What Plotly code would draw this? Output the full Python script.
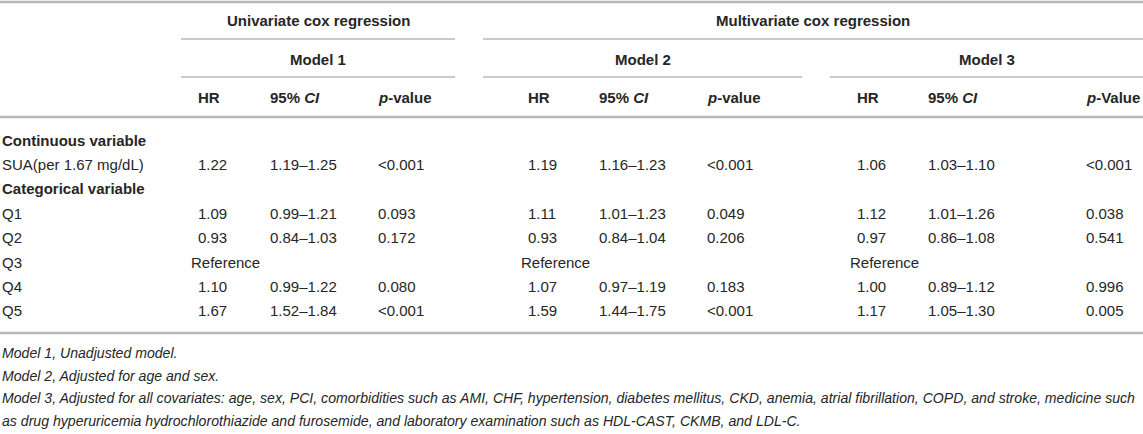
import plotly.graph_objects as go

# ---------------- data ----------------
group_titles = ["Univariate cox regression", "Multivariate cox regression"]
model_titles = ["Model 1", "Model 2", "Model 3"]
col_headers = [["HR", "95% <i>CI</i>", "<i>p</i>-value"],
               ["HR", "95% <i>CI</i>", "<i>p</i>-value"],
               ["HR", "95% <i>CI</i>", "<i>p</i>-Value"]]

section_labels = ["Continuous variable", "Categorical variable"]
row_labels = ["SUA(per 1.67 mg/dL)", "Q1", "Q2", "Q3", "Q4", "Q5"]
row_section = [0, 1, 1, 1, 1, 1]

hr_m1 = [1.22, 1.09, 0.93, None, 1.10, 1.67]
ci_lo_m1 = [1.19, 0.99, 0.84, None, 0.99, 1.52]
ci_hi_m1 = [1.25, 1.21, 1.03, None, 1.22, 1.84]
p_m1 = ["<0.001", "0.093", "0.172", None, "0.080", "<0.001"]

hr_m2 = [1.19, 1.11, 0.93, None, 1.07, 1.59]
ci_lo_m2 = [1.16, 1.01, 0.84, None, 0.97, 1.44]
ci_hi_m2 = [1.23, 1.23, 1.04, None, 1.19, 1.75]
p_m2 = ["<0.001", "0.049", "0.206", None, "0.183", "<0.001"]

hr_m3 = [1.06, 1.12, 0.97, None, 1.00, 1.17]
ci_lo_m3 = [1.03, 1.01, 0.86, None, 0.89, 1.05]
ci_hi_m3 = [1.10, 1.26, 1.08, None, 1.12, 1.30]
p_m3 = ["<0.001", "0.038", "0.541", None, "0.996", "0.005"]

reference_label = "Reference"

footnotes = [
    "Model 1, Unadjusted model.",
    "Model 2, Adjusted for age and sex.",
    "Model 3, Adjusted for all covariates: age, sex, PCI, comorbidities such as AMI, CHF, hypertension, diabetes mellitus, CKD, anemia, atrial fibrillation, COPD, and stroke, medicine such",
    "as drug hyperuricemia hydrochlorothiazide and furosemide, and laboratory examination such as HDL-CAST, CKMB, and LDL-C.",
]

# ---------------- layout geometry ----------------
W, H = 1143, 434
FONT = "Liberation Sans, Arial, Helvetica, sans-serif"
TXT = "#262626"
LINE = "#b8b8b8"
BODY_SIZE = 15
FOOT_SIZE = 14.1

model_cols = [[197, 269, 377], [527, 598, 706], [856, 927, 1085]]
model_spans = [(181, 455), (483, 802), (830, 1143)]
group_spans = [(181, 455), (483, 1143)]

y_top = 2
y_group, y_line1, y_model, y_line2, y_head, y_head_line = 20, 39, 59, 77, 97, 117
row_y0, row_dy = 140, 24.4
y_bottom_line = 333
foot_y0, foot_dy = 353, 22.7

models = [
    (hr_m1, ci_lo_m1, ci_hi_m1, p_m1),
    (hr_m2, ci_lo_m2, ci_hi_m2, p_m2),
    (hr_m3, ci_lo_m3, ci_hi_m3, p_m3),
]

fig = go.Figure()
fig.add_trace(go.Scatter(x=[0, W], y=[0, H], mode="markers",
                         marker=dict(opacity=0), hoverinfo="skip", showlegend=False))

ann = []


def text(x, y, s, bold=False, italic=False, anchor="left", size=BODY_SIZE):
    if bold:
        s = "<b>" + s + "</b>"
    if italic:
        s = "<i>" + s + "</i>"
    ann.append(dict(x=x, y=y, xref="x", yref="y", text=s, showarrow=False,
                    xanchor=anchor, yanchor="middle", borderpad=0,
                    font=dict(family=FONT, size=size, color=TXT)))


shapes = []


def hline(x0, x1, y, w):
    shapes.append(dict(type="line", xref="x", yref="y", x0=x0, x1=x1, y0=y, y1=y,
                       line=dict(color=LINE, width=w)))


# header
for (a, b), t in zip(group_spans, group_titles):
    text((a + b) / 2, y_group, t, bold=True, anchor="center")
    hline(a, b, y_line1, 1.5)
for (a, b), t in zip(model_spans, model_titles):
    text((a + b) / 2, y_model, t, bold=True, anchor="center")
    hline(a, b, y_line2, 1.5)
for cols, hdrs in zip(model_cols, col_headers):
    for x, h in zip(cols, hdrs):
        text(x, y_head, h, bold=True)

hline(0, W, y_top, 2.5)
hline(0, W, y_head_line, 2.5)
hline(0, W, y_bottom_line, 2.5)

# body
line_idx = 0
current_section = None
for i, lab in enumerate(row_labels):
    if row_section[i] != current_section:
        current_section = row_section[i]
        text(1, row_y0 + line_idx * row_dy, section_labels[current_section], bold=True)
        line_idx += 1
    y = row_y0 + line_idx * row_dy
    text(1, y, lab)
    for cols, (hr, lo, hi, p) in zip(model_cols, models):
        if hr[i] is None:
            text(cols[0] - 7, y, reference_label)
        else:
            text(cols[0], y, f"{hr[i]:.2f}")
            text(cols[1], y, f"{lo[i]:.2f}\u2013{hi[i]:.2f}")
            text(cols[2], y, p[i].replace("<", "&lt;"))
    line_idx += 1

# footnotes
for k, fn in enumerate(footnotes):
    text(1, foot_y0 + k * foot_dy, fn, italic=True, size=FOOT_SIZE)

fig.update_layout(
    width=W, height=H,
    margin=dict(l=0, r=0, t=0, b=0),
    paper_bgcolor="white", plot_bgcolor="white",
    xaxis=dict(range=[0, W], visible=False, fixedrange=True),
    yaxis=dict(range=[H, 0], visible=False, fixedrange=True),
    annotations=ann, shapes=shapes, showlegend=False,
)

fig.write_html(
    "out.html",
    config={"displayModeBar": False},
    post_script="document.body.style.margin='0';document.body.style.overflow='hidden';",
)
